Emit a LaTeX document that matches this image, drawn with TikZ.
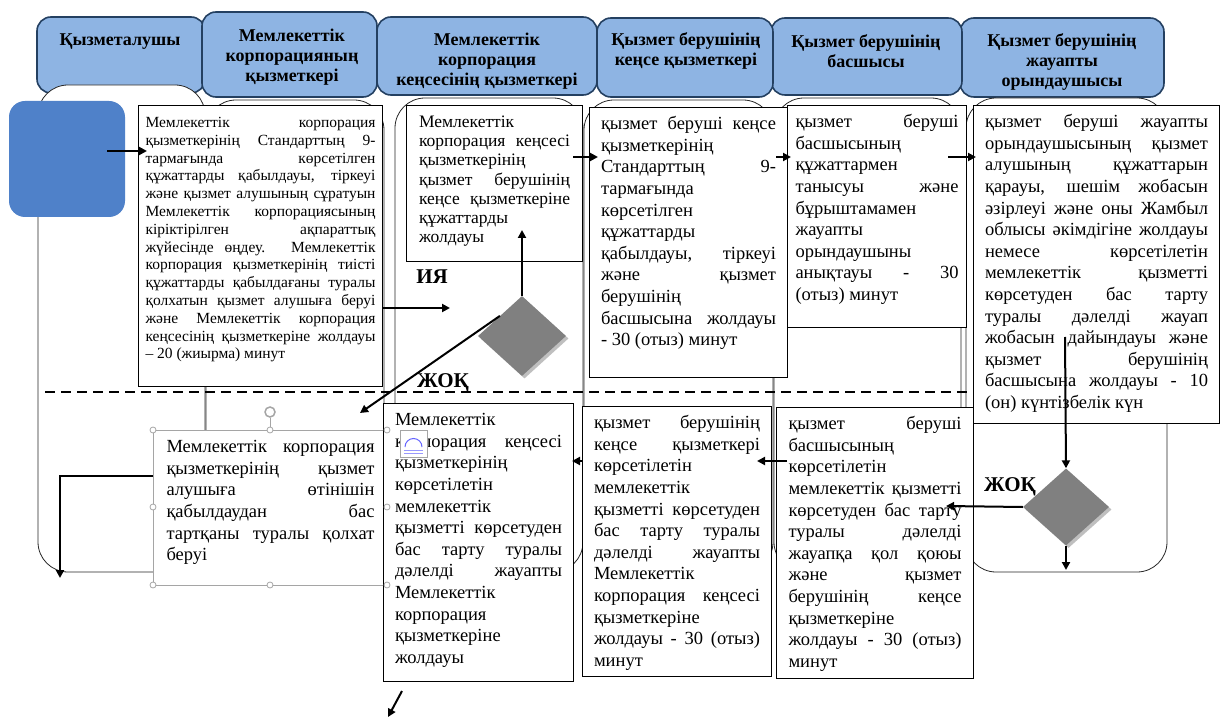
\documentclass[tikz,border=0pt]{standalone}
\usepackage{fontspec}
\setmainfont{Liberation Serif}
\usetikzlibrary{arrows.meta,shapes.geometric,shadows}
\definecolor{tabfill}{RGB}{142,180,227}
\definecolor{tabline}{RGB}{36,64,97}
\definecolor{startblue}{RGB}{79,129,201}
\definecolor{selgray}{RGB}{165,165,165}
\hbadness=10000
\hfuzz=30pt
\hyphenpenalty=10000
\begin{document}
\begin{tikzpicture}[x=1pt,y=-1pt,
tab/.style={draw=tabline, fill=tabfill, line width=1.6pt, rounded corners=14pt},
tabtext/.style={font=\bfseries\fontsize{18}{20}\selectfont, align=center, inner sep=0pt},
lane/.style={draw=black!85, line width=0.8pt, fill=white, rounded corners=30pt},
stepbox/.style={draw, line width=1pt, fill=white, anchor=north west, inner ysep=7pt, font=\fontsize{18.5}{21.6}\selectfont},
decision/.style={diamond, fill=gray, minimum width=88pt, minimum height=80pt, inner sep=0pt, drop shadow={shadow xshift=2.5pt, shadow yshift=-2.5pt, fill=black!25, opacity=1}},
arr/.style={-{Triangle[length=8pt,width=8pt]}, line width=2pt},
answer/.style={font=\bfseries\fontsize{21}{21}\selectfont, inner sep=0pt},
handle/.style={draw=selgray, fill=white, line width=0.8pt}]
\useasboundingbox (0,0) rectangle (1221,719);
% column heads
\draw[tab] (37,17) rectangle (205,93);
\draw[tab] (960,18) rectangle (1164,97);
\draw[tab] (771,18) rectangle (962,95);
\draw[tab] (597,18) rectangle (773,97);
\draw[tab] (377,17) rectangle (597,95);
\draw[tab] (202,12) rectangle (377,97);
\node[tabtext] (h1) at (120,42) {Қызметалушы};
\node[tabtext] (h2) at (292,57) {Мемлекеттік\\корпорацияның\\қызметкері};
\node[tabtext] (h3) at (487,61) {Мемлекеттік\\корпорация\\кеңсесінің қызметкері};
\node[tabtext] (h4) at (686,51) {Қызмет берушінің\\кеңсе қызметкері};
\node[tabtext] (h5) at (866,51) {Қызмет берушінің\\басшысы};
\node[tabtext] (h6) at (1062,62) {Қызмет берушінің\\жауапты\\орындаушысы};
% lanes
\draw[lane] (966,98) rectangle (1167,572);
\draw[lane] (774,98) rectangle (961,572);
\draw[lane] (584,100) rectangle (773,572);
\draw[lane] (395,98) rectangle (583,572);
\draw[lane] (206,100) rectangle (384,572);
\draw[lane] (38,85) rectangle (205,572);
\draw[dash pattern=on 10pt off 6pt, line width=1.5pt] (45,392) -- (975,392);
% start
\node[fill=startblue, rounded corners=16pt, minimum width=116pt, minimum height=116pt, inner sep=0pt] (start) at (67,159) {};
% steps
\node[stepbox, inner xsep=7pt, inner ysep=9.5pt, font=\fontsize{15.5}{17.8}\selectfont] (b1) at (138,105) {\parbox[t][262pt][t]{230pt}{\strut Мемлекеттік корпорация\linebreak
қызметкерінің Стандарттың 9-\linebreak
тармағында көрсетілген\linebreak
құжаттарды қабылдауы, тіркеуі\linebreak
және қызмет алушының сұратуын\linebreak
Мемлекеттік корпорациясының\linebreak
кіріктірілген ақпараттық\linebreak
жүйесінде өңдеу. Мемлекеттік\linebreak
корпорация қызметкерінің тиісті\linebreak
құжаттарды қабылдағаны туралы\linebreak
қолхатын қызмет алушыға беруі\linebreak
және Мемлекеттік корпорация\linebreak
кеңсесінің қызметкеріне жолдауы\linebreak
– 20 (жиырма) минут}};
\node[stepbox, inner xsep=12.5pt, inner ysep=8.6pt, font=\fontsize{17.5}{19.2}\selectfont] (b3) at (406,105) {\parbox[t][138.8pt][t]{151pt}{\strut Мемлекеттік\linebreak
корпорация кеңсесі\linebreak
қызметкерінің\linebreak
қызмет берушінің\linebreak
кеңсе қызметкеріне\linebreak
құжаттарды\linebreak
жолдауы}};
\node[stepbox, inner xsep=11.5pt] (b4) at (589,107) {\parbox[t][256pt][t]{175pt}{\strut қызмет беруші кеңсе\linebreak
қызметкерінің\linebreak
Стандарттың 9-\linebreak
тармағында\linebreak
көрсетілген\linebreak
құжаттарды\linebreak
қабылдауы, тіркеуі\linebreak
және қызмет\linebreak
берушінің\linebreak
басшысына жолдауы\linebreak
- 30 (отыз) минут}};
\node[stepbox, inner xsep=8pt] (b5) at (787,105) {\parbox[t][208pt][t]{163pt}{\strut қызмет беруші\linebreak
басшысының\linebreak
құжаттармен\linebreak
танысуы және\linebreak
бұрыштамамен\linebreak
жауапты\linebreak
орындаушыны\linebreak
анықтауы - 30\linebreak
(отыз) минут}};
\node[stepbox, inner xsep=11.5pt] (b6) at (973,105) {\parbox[t][304pt][t]{223pt}{\strut қызмет беруші жауапты\linebreak
орындаушысының қызмет\linebreak
алушының құжаттарын\linebreak
қарауы, шешім жобасын\linebreak
әзірлеуі және оны Жамбыл\linebreak
облысы әкімдігіне жолдауы\linebreak
немесе көрсетілетін\linebreak
мемлекеттік қызметті\linebreak
көрсетуден бас тарту\linebreak
туралы дәлелді жауап\linebreak
жобасын дайындауы және\linebreak
қызмет берушінің\linebreak
басшысына жолдауы - 10\linebreak
(он) күнтізбелік күн}};
\node[stepbox, draw=selgray, inner xsep=13pt] (r) at (153,430) {\parbox[t][141pt][t]{208pt}{\strut Мемлекеттік корпорация\linebreak
қызметкерінің қызмет\linebreak
алушыға өтінішін\linebreak
қабылдаудан бас\linebreak
тартқаны туралы қолхат\linebreak
беруі}};
\node[stepbox, inner xsep=11.5pt] (b7) at (383,403) {\parbox[t][264pt][t]{167pt}{\strut Мемлекеттік\linebreak
корпорация кеңсесі\linebreak
қызметкерінің\linebreak
көрсетілетін\linebreak
мемлекеттік\linebreak
қызметті көрсетуден\linebreak
бас тарту туралы\linebreak
дәлелді жауапты\linebreak
Мемлекеттік\linebreak
корпорация\linebreak
қызметкеріне\linebreak
жолдауы}};
\node[stepbox, inner xsep=11.5pt] (b8) at (582,406) {\parbox[t][256pt][t]{166pt}{\strut қызмет берушінің\linebreak
кеңсе қызметкері\linebreak
көрсетілетін\linebreak
мемлекеттік\linebreak
қызметті көрсетуден\linebreak
бас тарту туралы\linebreak
дәлелді жауапты\linebreak
Мемлекеттік\linebreak
корпорация кеңсесі\linebreak
қызметкеріне\linebreak
жолдауы - 30 (отыз)\linebreak
минут}};
\node[stepbox, inner xsep=12pt] (b9) at (776,407) {\parbox[t][257pt][t]{173pt}{\strut қызмет беруші\linebreak
басшысының\linebreak
көрсетілетін\linebreak
мемлекеттік қызметті\linebreak
көрсетуден бас тарту\linebreak
туралы дәлелді\linebreak
жауапқа қол қоюы\linebreak
және қызмет\linebreak
берушінің кеңсе\linebreak
қызметкеріне\linebreak
жолдауы - 30 (отыз)\linebreak
минут}};
% decisions
\node[decision] (d1) at (522,336) {};
\node[decision, minimum width=86pt, minimum height=77pt] (d2) at (1066,507) {};
% arrows
\coordinate (a1) at (147,151);
\coordinate (a2) at (450,308);
\coordinate (a3) at (522,230);
\coordinate (a4) at (360,413);
\coordinate (a5) at (598,157);
\coordinate (a6) at (791,157);
\coordinate (a7) at (976,157);
\coordinate (a8) at (1065,337);
\coordinate (a9) at (1066,570);
\coordinate (a10) at (946,506);
\coordinate (a11) at (757,461);
\coordinate (a12) at (572,461);
\coordinate (a13) at (60,476);
\coordinate (a14) at (60,578);
\coordinate (a15) at (388,717);
\draw[arr] ([xshift=-18pt]start.east |- a1) -- (a1);
\draw[arr] (b1.east |- a2) -- (a2);
\draw[arr] (d1.north) -- (a3);
\draw[arr] (d1.north west) -- (a4);
\draw[arr] ([xshift=-10pt]b3.east |- a5) -- (a5);
\draw[arr] ([xshift=-12pt]b4.east |- a6) -- (a6);
\draw[arr] ([xshift=-19pt]b5.east |- a7) -- (a7);
\draw[arr] (a8) -- (d2.north);
\draw[arr] (d2.south) -- (a9);
\draw[arr] (d2.west) -- (a10);
\draw[arr] ([xshift=11pt]b9.west |- a11) -- (a11);
\draw[arr] (b8.west |- a12) -- (a12);
\draw[arr] (r.west |- a13) -- (a13) -- (a14);
\draw[arr] ([shift={(19,9)}]b7.south west) -- (a15);
% answers
\node[answer] (yes1) at (432,277) {ИЯ};
\node[answer] (no1) at (443,383) {ЖОҚ};
\node[answer] (no2) at (1010,487) {ЖОҚ};
% selection handles
\draw[handle] (153,430) circle[radius=3pt];
\draw[handle] (270,430) circle[radius=3pt];
\draw[handle] (387,430) circle[radius=3pt];
\draw[handle] (153,507) circle[radius=3pt];
\draw[handle] (387,507) circle[radius=3pt];
\draw[handle] (153,585) circle[radius=3pt];
\draw[handle] (270,585) circle[radius=3pt];
\draw[handle] (387,585) circle[radius=3pt];
\draw[selgray, line width=0.8pt] (270,418) -- (270,427);
\draw[selgray, line width=1.5pt] (270,412) circle[radius=5pt];
\draw[selgray, fill=white] (400,430) rectangle (427,457);
\draw[blue!60, line width=1pt] (405,447) arc[start angle=180, end angle=0, radius=8.5pt];
\draw[blue!40, line width=0.8pt] (404,450) -- (423,450) (404,453) -- (423,453);
\end{tikzpicture}
\end{document}
